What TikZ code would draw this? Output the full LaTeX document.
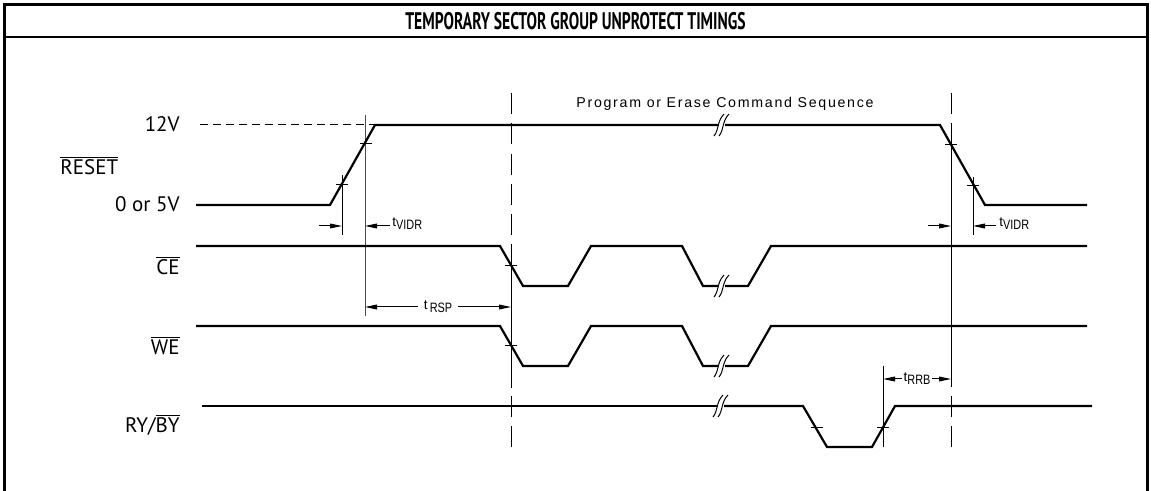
\documentclass[tikz,border=0pt]{standalone}
\usepackage{fontspec}
\usepackage{graphicx}
\setmainfont{PT Sans}
\newfontfamily\cadfont{Liberation Sans}
\newfontfamily\cadwide[LetterSpace=12]{Liberation Sans}
\usetikzlibrary{arrows.meta}

\tikzset{
  sig/.style={line width=1.1pt},
  heavysig/.style={line width=1.35pt},
  fine/.style={line width=0.5pt},
  guide/.style={line width=0.5pt,dash pattern=on 10.5pt off 4.65pt},
  levelguide/.style={line width=0.5pt,dash pattern=on 4pt off 2.5pt},
  dim/.style={line width=0.5pt,-{Triangle[length=6pt,width=2.4pt]}},
  dimboth/.style={line width=0.5pt,{Triangle[length=6pt,width=2.4pt]}-{Triangle[length=6pt,width=2.4pt]}},
  lbl/.style={font=\fontsize{10.5}{12}\selectfont,inner sep=0pt},
  tlbl/.style={font=\cadfont\fontsize{6.8}{8}\selectfont,inner sep=0pt},
}
\newcommand{\tlab}[1]{t\raisebox{-1.5pt}{\scalebox{0.8}[1]{#1}}}
\newcommand{\brkmark}[2]{%
  \begin{scope}[shift={(#1,#2)}]
    \fill[white] (-4.5,-2.5) rectangle (1.5,2.5);
    \draw[fine] (-9,11) .. controls (-4,5) and (-6,-4) .. (1,-11);
    \draw[fine] (-4,11) .. controls (1,5) and (-1,-4) .. (6,-11);
  \end{scope}}

\begin{document}
\begin{tikzpicture}[x=0.5pt,y=-0.5pt]
\useasboundingbox (0,0) rectangle (1151,491);
% frame and title
\draw[line width=1.5pt] (4,491) -- (4,5) -- (1147,5) -- (1147,491);
\draw[line width=1.2pt] (4,37) -- (1147,37);
\node (title) at (575.5,21) {\fontsize{12}{14}\selectfont\bfseries\scalebox{0.65}[1]{TEMPORARY SECTOR GROUP UNPROTECT TIMINGS}};
%
% signal names
\node[lbl,anchor=base east] (v12) at (180,132) {12V};
\node[lbl,anchor=base west] (resetname) at (60,175) {$\overline{\mbox{RESET}}$};
\node[lbl,anchor=base east] (v05) at (180,212) {0 or 5V};
\node[lbl,anchor=base east] (cename) at (180,275) {$\overline{\mbox{CE}}$};
\node[lbl,anchor=base east] (wename) at (180,355) {$\overline{\mbox{WE}}$};
\node[lbl,anchor=base east] (rybyname) at (180,433) {RY/$\overline{\mbox{BY}}$};
%
% guide lines
\draw[guide] (511,93) -- (511,447);
\draw[fine] (511,245) -- (511,388);
\draw[guide] (951,93) -- (951,447);
\draw[fine] (951,124) -- (951,385);
\draw[fine] (342,175) -- (342,235);
\draw[fine,black!70] (365,115) -- (365,316);
\draw[fine] (973,177) -- (973,235);
\draw[fine] (883,366) -- (883,447);
%
% RESET
\draw[levelguide] (200,125) -- (375,125);
\draw[sig] (196,205) -- (330,205) -- (375,125) -- (940,125) -- (985,205) -- (1087,205);
\brkmark{723}{125}
\node[font=\cadwide\fontsize{7.1}{8}\selectfont] (seqtext) at (725,104) {Program or Erase Command Sequence};
%
% CE
\draw[sig] (196,246) -- (500,246) -- (523,286) -- (568,286) -- (591,246) -- (682,246)
  -- (703,286) -- (748,286) -- (771,246) -- (1087,246);
\brkmark{723}{286}
%
% WE
\draw[sig] (196,326) -- (500,326) -- (523,366) -- (568,366) -- (591,326) -- (682,326)
  -- (703,366) -- (748,366) -- (771,326) -- (1087,326);
\brkmark{723}{366}
%
% RY/BY
\draw[heavysig] (202,406) -- (722,406);
\draw[sig] (722,406) -- (803,406) -- (827,447) -- (872,447) -- (895,406) -- (1092,406);
\brkmark{722}{406}
%
% crossing ticks
\foreach \tx/\ty in {342/185, 366/144, 951/145, 973/186, 511/266, 511/346, 817/428, 883/428}
  \draw[fine] (\tx-6,\ty) -- (\tx+6,\ty);
%
% timing parameters
\draw[dim] (319,226) -- (342,226);
\draw[dim] (390,226) -- (365,226);
\node[tlbl,anchor=base west] (tvidra) at (392,227) {\tlab{VIDR}};
\draw[dim] (928,226) -- (951,226);
\draw[dim] (996,226) -- (973,226);
\node[tlbl,anchor=base west] (tvidrb) at (999,227) {\tlab{VIDR}};
\draw[dimboth] (365,307) -- (511,307)
  node[tlbl,midway,fill=white,inner xsep=3pt,inner ysep=1pt] (trsp) {t\,\raisebox{-1.5pt}{\scalebox{0.8}[1]{RSP}}};
\draw[dimboth] (883,379) -- (951,379)
  node[tlbl,midway,fill=white,inner xsep=1pt,inner ysep=1pt] (trrb) {\tlab{RRB}};
\end{tikzpicture}
\end{document}
